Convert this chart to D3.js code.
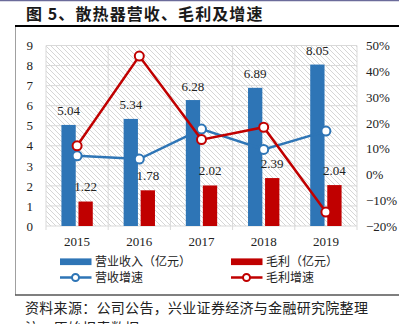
<!DOCTYPE html>
<html><head><meta charset="utf-8">
<script src="https://cdn.jsdelivr.net/npm/d3@7"></script>
<style>body{margin:0;background:#fff;}svg{display:block;}</style>
</head><body>
<script>
const categories = ["2015","2016","2017","2018","2019"];
const revenue = [5.04, 5.34, 6.28, 6.89, 8.05];
const grossProfit = [1.22, 1.78, 2.02, 2.39, 2.04];
const revenueGrowth = [0.072, 0.0595, 0.176, 0.097, 0.168];
const profitGrowth = [0.111, 0.459, 0.135, 0.183, -0.146];
const leftTicks = [0,1,2,3,4,5,6,7,8,9];
const rightTicks = [-0.2,-0.1,0,0.1,0.2,0.3,0.4,0.5];

(function(){
const W = 399, H = 324;
const serif = "'Liberation Serif','Times New Roman',serif";
const cjk = "'Noto Sans CJK SC','Noto Sans',sans-serif";
const BLUE = "#2E75B6", RED = "#C00000";

const svg = d3.select("body").append("svg").attr("width", W).attr("height", H);

const defs = svg.append("defs");
const pat = defs.append("pattern").attr("id","hatch").attr("patternUnits","userSpaceOnUse")
  .attr("width",5).attr("height",5);
pat.append("rect").attr("width",5).attr("height",5).attr("fill","#fff");
pat.append("path").attr("d","M-1,-1 L6,6 M-1,4 L1,6 M4,-1 L6,1").attr("stroke","#d6d6d6").attr("stroke-width",1);

// top line and title
svg.append("line").attr("x1",0).attr("x2",W).attr("y1",0.5).attr("y2",0.5).attr("stroke","#6b6b9a").attr("stroke-width",1.5);
svg.append("text").attr("x",26).attr("y",19.5).attr("font-family",cjk).attr("font-weight","bold")
  .attr("font-size",16).attr("fill","#1a1a1a").attr("letter-spacing",1.1).text("图 5、散热器营收、毛利及增速");
svg.append("line").attr("x1",15).attr("x2",W).attr("y1",26).attr("y2",26).attr("stroke","#000").attr("stroke-width",2);
// frame
svg.append("line").attr("x1",15.5).attr("x2",15.5).attr("y1",27).attr("y2",295).attr("stroke","#a0a0a0").attr("stroke-width",1);
svg.append("line").attr("x1",15).attr("x2",W).attr("y1",295).attr("y2",295).attr("stroke","#555").attr("stroke-width",1.5);

const pL = 46, pR = 357, pT = 45.5, pB = 226;
const x = d3.scaleBand().domain(categories).range([pL,pR]).padding(0);
const yL = d3.scaleLinear().domain([0,9]).range([pB,pT]);
const yR = d3.scaleLinear().domain([-0.2,0.5]).range([pB,pT]);
const bw = x.bandwidth()*0.23, off = x.bandwidth()*0.137;
const cx = c => x(c) + x.bandwidth()/2;

svg.append("rect").attr("x",pL).attr("y",pT).attr("width",pR-pL).attr("height",pB-pT).attr("fill","url(#hatch)");

// gridlines
const g = svg.append("g");
g.selectAll(".hg").data(leftTicks).join("line")
  .attr("x1",pL).attr("x2",pR).attr("y1",d=>yL(d)).attr("y2",d=>yL(d))
  .attr("stroke","#d9d9d9").attr("stroke-width",1);
const bounds = categories.map(c=>x(c)).concat([pR]);
g.selectAll(".vg").data(bounds).join("line")
  .attr("x1",d=>d).attr("x2",d=>d).attr("y1",pT).attr("y2",pB+4)
  .attr("stroke","#d9d9d9").attr("stroke-width",1);

// axes labels
const axL = d3.axisLeft(yL).tickValues(leftTicks).tickSize(0).tickPadding(0).tickFormat(d3.format("d"));
const gl = svg.append("g").attr("transform","translate(33,0)").call(axL);
gl.select(".domain").remove();
gl.selectAll("text").attr("font-family",serif).attr("font-size",13).attr("fill","#222");

const axR = d3.axisRight(yR).tickValues(rightTicks).tickSize(0).tickPadding(0).tickFormat(d3.format(".0%"));
const gr = svg.append("g").attr("transform","translate(366,0)").call(axR);
gr.select(".domain").remove();
gr.selectAll("text").attr("font-family",serif).attr("font-size",13).attr("fill","#222");

const axB = d3.axisBottom(x).tickSize(0).tickPadding(0);
const gb = svg.append("g").attr("transform",`translate(0,${pB})`).call(axB);
gb.select(".domain").remove();
gb.selectAll("text").attr("font-family",serif).attr("font-size",13).attr("fill","#222").attr("dy",null).attr("y",20);

// bars
svg.selectAll(".rb").data(revenue).join("rect")
  .attr("x",(d,i)=>cx(categories[i])-off-bw/2).attr("width",bw)
  .attr("y",d=>yL(d)).attr("height",d=>pB-yL(d)).attr("fill",BLUE);
svg.selectAll(".pb").data(grossProfit).join("rect")
  .attr("x",(d,i)=>cx(categories[i])+off-bw/2).attr("width",bw)
  .attr("y",d=>yL(d)).attr("height",d=>pB-yL(d)).attr("fill",RED);

// bar labels
svg.selectAll(".rl").data(revenue).join("text")
  .attr("x",(d,i)=>cx(categories[i])-off).attr("y",d=>yL(d)-9.5)
  .attr("text-anchor","middle").attr("font-family",serif).attr("font-size",13).attr("fill","#222")
  .text(d=>d.toFixed(2));
svg.selectAll(".pl").data(grossProfit).join("text")
  .attr("x",(d,i)=>cx(categories[i])+off).attr("y",d=>yL(d)-10.5)
  .attr("text-anchor","middle").attr("font-family",serif).attr("font-size",13).attr("fill","#222")
  .text(d=>d.toFixed(2));

// lines
function drawLine(vals,color){
  const line = d3.line().x((d,i)=>cx(categories[i])).y(d=>yR(d));
  svg.append("path").datum(vals).attr("d",line).attr("fill","none").attr("stroke",color).attr("stroke-width",2.5);
  svg.append("g").selectAll("circle").data(vals).join("circle")
    .attr("cx",(d,i)=>cx(categories[i])).attr("cy",d=>yR(d)).attr("r",4.5)
    .attr("fill","#fff").attr("stroke",color).attr("stroke-width",2);
}
drawLine(revenueGrowth,BLUE);
drawLine(profitGrowth,RED);

// legend
const legendItems = [
  {type:"bar",color:BLUE,label:"营业收入（亿元）",x:60,y:261.7},
  {type:"bar",color:RED,label:"毛利（亿元）",x:231,y:261.7},
  {type:"line",color:BLUE,label:"营收增速",x:60,y:277.5},
  {type:"line",color:RED,label:"毛利增速",x:231,y:277.5}
];
const lg = svg.append("g").selectAll("g").data(legendItems).join("g");
lg.each(function(d){
  const s = d3.select(this);
  if(d.type==="bar"){
    s.append("rect").attr("x",d.x).attr("y",d.y-3.3).attr("width",31.5).attr("height",6.7).attr("fill",d.color);
  } else {
    s.append("line").attr("x1",d.x).attr("x2",d.x+31.5).attr("y1",d.y).attr("y2",d.y).attr("stroke",d.color).attr("stroke-width",2.5);
    s.append("circle").attr("cx",d.x+15.5).attr("cy",d.y).attr("r",3.5).attr("fill","#fff").attr("stroke",d.color).attr("stroke-width",2);
  }
  s.append("text").attr("x",d.x+35).attr("y",d.y).attr("dy","0.35em").attr("font-family",cjk)
    .attr("font-size",12).attr("fill","#222").text(d.label);
});

// source
svg.append("text").attr("x",25).attr("y",313).attr("font-family",cjk).attr("font-size",14)
  .attr("fill","#222").attr("letter-spacing",0.3).text("资料来源：公司公告，兴业证券经济与金融研究院整理");
svg.append("text").attr("x",25).attr("y",333).attr("font-family",cjk).attr("font-size",14)
  .attr("fill","#222").attr("letter-spacing",0.3).text("注：原始报表数据");
})();
</script>
</body></html>
